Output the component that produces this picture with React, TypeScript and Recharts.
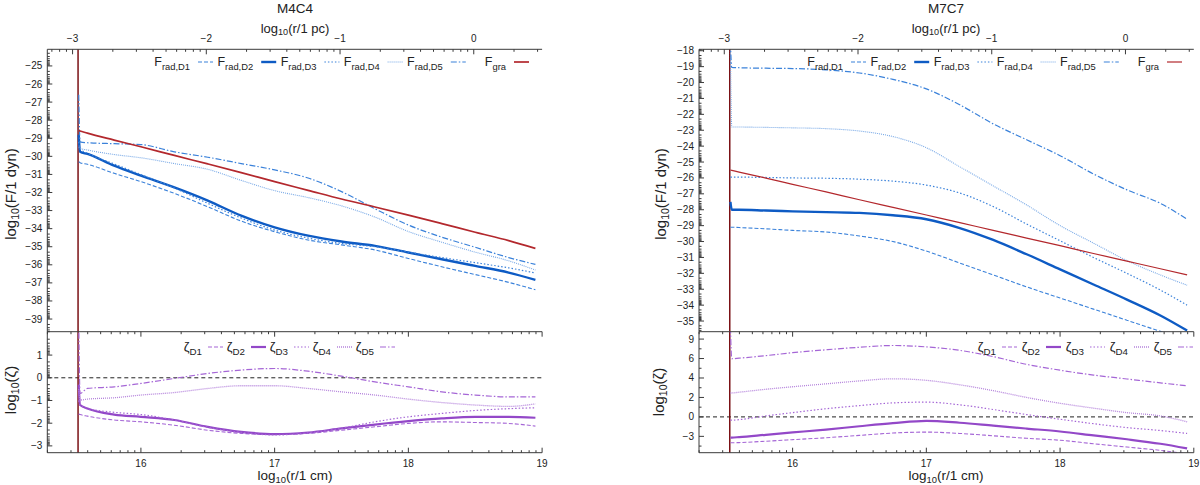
import { LineChart, Line, XAxis, YAxis, ReferenceLine, Legend } from 'recharts'

const FONT = '"Liberation Sans", Arial, sans-serif'
const INK = '#222'
const FRAME = '#3a3a3a'
const MINUS = '\u2212'

// radius grid, log10(r / 1 cm)
const R_CM = [15.535, 15.545, 15.6, 15.8, 16.0, 16.25, 16.5, 16.75, 17.0, 17.25, 17.5, 17.75, 18.0, 18.25, 18.5, 18.75, 18.95]
const R_IN = 15.53
const PC_OFFSET = 18.489

// M4C4, log10(F / 1 dyn)
const M4_FRAD_D1 = [-30.3, -30.35, -30.44, -30.94, -31.4, -32.05, -32.79, -33.58, -34.17, -34.63, -34.9, -35.18, -35.65, -36.11, -36.54, -36.97, -37.38]
const M4_FRAD_D2 = [-28.8, -29.75, -29.87, -30.52, -31.07, -31.72, -32.45, -33.28, -33.93, -34.39, -34.71, -34.95, -35.32, -35.69, -36.06, -36.43, -36.83]
const M4_FRAD_D3 = [-29.2, -29.6, -29.83, -30.42, -31.01, -31.75, -32.6, -33.41, -34.08, -34.52, -34.82, -35.0, -35.3, -35.6, -35.88, -36.17, -36.45]
const M4_FRAD_D4 = [-29.5, -29.56, -29.65, -29.9, -30.08, -30.4, -30.72, -31.33, -31.9, -32.28, -32.74, -33.36, -34.16, -34.75, -35.3, -35.78, -36.29]
const M4_FRAD_D5 = [-26.6, -29.2, -29.25, -29.3, -29.35, -29.75, -30.05, -30.4, -30.75, -31.2, -31.95, -32.9, -33.8, -34.47, -35.03, -35.6, -35.98]
const M4_FGRA = [-28.58, -28.6, -28.72, -29.1, -29.47, -29.95, -30.42, -30.9, -31.4, -31.88, -32.36, -32.8, -33.25, -33.72, -34.2, -34.66, -35.09]

// M4C4, log10(zeta)
const M4_ZETA_D1 = [-1.6, -1.62, -1.69, -1.86, -1.94, -2.09, -2.31, -2.45, -2.5, -2.45, -2.31, -2.16, -2.01, -1.94, -1.97, -2.01, -2.13]
const M4_ZETA_D2 = [-0.3, -1.2, -1.35, -1.62, -1.72, -1.86, -2.16, -2.38, -2.48, -2.41, -2.23, -2.06, -1.91, -1.79, -1.72, -1.72, -1.76]
const M4_ZETA_D3 = [-1.0, -1.2, -1.35, -1.52, -1.62, -1.86, -2.18, -2.4, -2.52, -2.43, -2.22, -1.94, -1.72, -1.57, -1.44, -1.36, -1.32]
const M4_ZETA_D4 = [-0.5, -0.98, -0.94, -0.88, -0.76, -0.65, -0.47, -0.35, -0.35, -0.47, -0.62, -0.76, -0.94, -1.09, -1.2, -1.26, -1.15]
const M4_ZETA_D5 = [2.5, -0.69, -0.47, -0.4, -0.25, -0.03, 0.19, 0.34, 0.41, 0.29, 0.07, -0.18, -0.4, -0.62, -0.76, -0.84, -0.84]

// M7C7, log10(F / 1 dyn)
const M7_FRAD_D1 = [-29.1, -29.1, -29.12, -29.2, -29.3, -29.4, -29.65, -30.0, -30.6, -31.35, -32.1, -32.85, -33.55, -34.25, -34.95, -35.65, -36.2]
const M7_FRAD_D2 = [-27.5, -28.0, -28.0, -28.05, -28.1, -28.15, -28.2, -28.35, -28.6, -29.15, -29.9, -30.8, -31.75, -32.7, -33.65, -34.65, -35.6]
const M7_FRAD_D3 = [-25.95, -25.95, -25.95, -25.97, -26.0, -26.02, -26.08, -26.2, -26.45, -26.95, -27.8, -28.9, -29.95, -31.0, -32.0, -33.05, -34.0]
const M7_FRAD_D4 = [-18.0, -22.8, -22.8, -22.82, -22.85, -22.9, -23.05, -23.4, -24.1, -25.3, -26.5, -27.7, -29.0, -30.1, -31.2, -32.1, -32.75]
const M7_FRAD_D5 = [-17.5, -19.05, -19.07, -19.1, -19.12, -19.2, -19.4, -19.8, -20.4, -21.4, -22.6, -23.6, -24.6, -25.75, -26.75, -27.6, -28.6]
const M7_FGRA = [-25.5, -25.52, -25.63, -26.01, -26.4, -26.88, -27.37, -27.85, -28.33, -28.81, -29.3, -29.78, -30.26, -30.75, -31.23, -31.71, -32.1]

// M7C7, log10(zeta) in axis-tick units (tick i carries M7_Z_LABELS[i])
const M7_ZETA_D1 = [-1.33, -1.33, -1.32, -1.25, -1.17, -1.07, -0.95, -0.83, -0.78, -0.85, -0.97, -1.1, -1.2, -1.38, -1.55, -1.72, -1.9]
const M7_ZETA_D2 = [-1.06, -1.06, -1.04, -0.92, -0.8, -0.65, -0.48, -0.32, -0.2, -0.3, -0.45, -0.6, -0.75, -0.95, -1.15, -1.38, -1.62]
const M7_ZETA_D3 = [-0.17, -0.17, -0.14, 0.05, 0.22, 0.42, 0.58, 0.72, 0.76, 0.62, 0.38, 0.12, -0.12, -0.35, -0.55, -0.7, -0.85]
const M7_ZETA_D4 = [1.23, 1.23, 1.27, 1.42, 1.55, 1.7, 1.85, 1.96, 1.88, 1.65, 1.35, 1.0, 0.7, 0.45, 0.22, 0.05, -0.25]
const M7_ZETA_D5 = [4.6, 2.99, 3.02, 3.15, 3.3, 3.45, 3.58, 3.67, 3.6, 3.42, 3.1, 2.7, 2.4, 2.15, 1.95, 1.75, 1.6]

// ticks
const X_TICKS = [16, 17, 18, 19]
const PC_TICKS = [-3, -2, -1, 0]
const M4_F_TICKS = [-39, -38, -37, -36, -35, -34, -33, -32, -31, -30, -29, -28, -27, -26, -25]
const M4_Z_TICKS = [-3, -2, -1, 0, 1]
const M7_F_TICKS = [-35, -34, -33, -32, -31, -30, -29, -28, -27, -26, -25, -24, -23, -22, -21, -20, -19, -18]
const M7_Z_TICKS = [-1, 0, 1, 2, 3, 4]
const M7_Z_LABELS = ['\u22123', '0', '2', '4', '6', '9']
const M7_Z_MINOR = [-1.5, -0.5, 0.5, 1.5, 2.5, 3.5]

const X_DOMAIN: [number, number] = [15.3, 19]
const M4_F_DOMAIN: [number, number] = [-39.7, -24.08]
const M4_Z_DOMAIN: [number, number] = [-3.3, 2.03]
const M7_F_DOMAIN: [number, number] = [-35.67, -17.91]
const M7_Z_DOMAIN: [number, number] = [-1.84, 4.38]

// page geometry
const PLOT_TOP = 49.3
const DIV_Y = 331.7
const PLOT_BOT = 452.7
const PLOT_W = 494.8
const LOWER_TOP = 300
const LOWER_H = 185

const BLUE = '#0e5bc4'
const BLUE_MID = '#3b82da'
const BLUE_LIGHT = '#77a8e6'
const RED = '#b3282d'
const RED_DARK = '#7a1014'
const PURPLE = '#9348c8'
const PURPLE_MID = '#a566d6'
const PURPLE_LIGHT = '#b584dc'

interface Style { key: string; name: string; color: string; width: number; dash?: string }

const F_STYLES: Style[] = [
  { key: 'd1', name: 'F_rad,D1', color: BLUE_MID, width: 1.1, dash: '4 2' },
  { key: 'd2', name: 'F_rad,D2', color: BLUE, width: 2.4 },
  { key: 'd3', name: 'F_rad,D3', color: BLUE_MID, width: 1.2, dash: '1.5 2' },
  { key: 'd4', name: 'F_rad,D4', color: BLUE_LIGHT, width: 1.1, dash: '1 1' },
  { key: 'd5', name: 'F_rad,D5', color: BLUE_MID, width: 1.2, dash: '6 2 1.5 2' },
]
const Z_STYLES: Style[] = [
  { key: 'd1', name: '\u03b6_D1', color: PURPLE_MID, width: 1.1, dash: '4 2' },
  { key: 'd2', name: '\u03b6_D2', color: PURPLE, width: 2.2 },
  { key: 'd3', name: '\u03b6_D3', color: PURPLE_MID, width: 1.2, dash: '1.5 2' },
  { key: 'd4', name: '\u03b6_D4', color: PURPLE_LIGHT, width: 1.3, dash: '1 1' },
  { key: 'd5', name: '\u03b6_D5', color: PURPLE_MID, width: 1.2, dash: '6 2 1.5 2' },
]

const fmt = (v: number) => (v < 0 ? MINUS + Math.abs(Math.round(v)) : String(Math.round(v)))
const LOG_K = [2, 3, 4, 5, 6, 7, 8, 9].map((k) => Math.log10(k))

function logMinors(majors: number[], dir: 1 | -1, [lo, hi]: [number, number], shift = 0) {
  const out = [...majors.map((m) => m + shift)]
  for (let n = Math.floor(lo - shift) - 1; n <= Math.ceil(hi - shift) + 1; n++) {
    for (const l of LOG_K) {
      const v = n + dir * l + shift
      if (v > lo && v < hi) out.push(v)
    }
  }
  return out.filter((v) => v >= lo - 1e-9 && v <= hi + 1e-9)
}

function rows(series: Record<string, number[]>) {
  return R_CM.map((r, i) => {
    const row: Record<string, number> = { r }
    for (const k of Object.keys(series)) row[k] = series[k][i]
    return row
  })
}

type Side = 'top' | 'bottom' | 'left' | 'right'

function makeTick(side: Side, majors: number[], labelOf?: (v: number) => string) {
  return function TickMark(props: any) {
    const x = Number(props.x)
    const y = Number(props.y)
    const v = Number(props.payload?.value)
    const major = majors.some((m) => Math.abs(m - v) < 1e-6)
    const len = major ? 5 : 2.5
    const label = major && labelOf ? labelOf(v) : null
    let x2 = x
    let y2 = y
    let tx = x
    let ty = y
    let anchor: 'middle' | 'end' = 'middle'
    if (side === 'bottom') { y2 = y - len; ty = y + 10.5 }
    if (side === 'top') { y2 = y + len; ty = y - 11 }
    if (side === 'left') { x2 = x + len; tx = x - 5; anchor = 'end' }
    if (side === 'right') { x2 = x - len }
    return (
      <g>
        <line x1={x} y1={y} x2={x2} y2={y2} stroke={FRAME} strokeWidth={1} />
        {label !== null && (
          <text x={tx} y={ty} textAnchor={anchor} dominantBaseline="central" fontSize={10} fontFamily={FONT} fill={INK}>
            {label}
          </text>
        )}
      </g>
    )
  }
}

// gnuplot-style key: right-aligned title followed by its line sample
function makeKey(order: string[], x0: number, step: number, gap: number, big: number) {
  return function Key(props: any) {
    const items = ((props.payload ?? []) as any[])
      .filter((it) => it.color !== 'none' && it.type !== 'none' && order.includes(String(it.value)))
      .sort((a, b) => order.indexOf(String(a.value)) - order.indexOf(String(b.value)))
    return (
      <svg width={600} height={24} style={{ overflow: 'visible' }}>
        {items.map((it, i) => {
          const t = x0 + step * i
          const [base, sub] = String(it.value).split('_')
          const p = it.payload ?? {}
          return (
            <g key={i}>
              <text x={t} y={15} textAnchor="end" fontSize={big} fontFamily={FONT} fill={INK}>
                {base}
                <tspan dy={3.5} fontSize={big * 0.75}>{sub}</tspan>
              </text>
              <line x1={t + gap} x2={t + gap + 15} y1={11} y2={11} stroke={it.color} strokeWidth={p.strokeWidth ?? 1} strokeDasharray={p.strokeDasharray} />
            </g>
          )
        })}
      </svg>
    )
  }
}

const PC_POS = PC_TICKS.map((p) => p + PC_OFFSET)
const PC_ALL = logMinors(PC_TICKS, 1, X_DOMAIN, PC_OFFSET)
const X_ALL = logMinors(X_TICKS, 1, X_DOMAIN)
const pcLabel = (v: number) => fmt(v - PC_OFFSET)

function UpperPanel(props: {
  left: number
  plotLeft: number
  series: Record<string, number[]>
  gra: Style
  yDomain: [number, number]
  yMajor: number[]
  keyX0: number
}) {
  const { left, plotLeft, series, gra, yDomain, yMajor, keyX0 } = props
  const W = 600
  const H = 340
  const data = rows(series)
  const yTicks = logMinors(yMajor, -1, yDomain)
  const styles = [...F_STYLES, gra]
  return (
    <div style={{ position: 'absolute', left, top: 0 }}>
      <LineChart width={W} height={H} data={data} margin={{ top: 0, left: 0, right: W - plotLeft - PLOT_W, bottom: H - DIV_Y }}>
        <XAxis xAxisId="pc" orientation="top" dataKey="r" type="number" domain={X_DOMAIN} allowDataOverflow ticks={PC_ALL} interval={0}
          height={PLOT_TOP} tickLine={false} tickSize={0} tickMargin={0} axisLine={{ stroke: FRAME }} tick={makeTick('top', PC_POS, pcLabel)} />
        <YAxis yAxisId="l" orientation="left" type="number" domain={yDomain} allowDataOverflow ticks={yTicks} interval={0}
          width={plotLeft} tickLine={false} tickSize={0} tickMargin={0} axisLine={{ stroke: FRAME }} tick={makeTick('left', yMajor, fmt)} />
        <YAxis yAxisId="r" orientation="right" type="number" domain={yDomain} allowDataOverflow ticks={yTicks} interval={0}
          width={0} tickLine={false} tickSize={0} tickMargin={0} axisLine={{ stroke: FRAME }} tick={makeTick('right', yMajor)} />
        <ReferenceLine xAxisId="pc" yAxisId="l" x={R_IN} stroke={RED_DARK} strokeWidth={1.5} />
        {styles.map((s) => (
          <Line key={s.key} xAxisId="pc" yAxisId="l" type="monotone" dataKey={s.key} name={s.name} stroke={s.color}
            strokeWidth={s.width} strokeDasharray={s.dash} dot={false} activeDot={false} isAnimationActive={false} />
        ))}
        <Line xAxisId="pc" yAxisId="r" dataKey="gra" stroke="none" legendType="none" dot={false} activeDot={false} isAnimationActive={false} />
        <Legend layout="horizontal" align="center" verticalAlign="middle"
          wrapperStyle={{ left: 0, top: 51, width: W, height: 24 }}
          content={makeKey(styles.map((s) => s.name), keyX0, 63.2, 8, 12.5)} />
      </LineChart>
    </div>
  )
}

function LowerPanel(props: {
  left: number
  plotLeft: number
  series: Record<string, number[]>
  yDomain: [number, number]
  yMajor: number[]
  yTicks: number[]
  yLabel: (v: number) => string
  keyX0: number
  keyStep: number
}) {
  const { left, plotLeft, series, yDomain, yMajor, yTicks, yLabel, keyX0, keyStep } = props
  const W = 600
  const H = LOWER_H
  const data = rows(series)
  const top = DIV_Y - LOWER_TOP
  return (
    <div style={{ position: 'absolute', left, top: LOWER_TOP }}>
      <LineChart width={W} height={H} data={data} margin={{ top: 0, left: 0, right: W - plotLeft - PLOT_W, bottom: 0 }}>
        <XAxis xAxisId="b" orientation="bottom" dataKey="r" type="number" domain={X_DOMAIN} allowDataOverflow ticks={X_ALL} interval={0}
          height={H - (PLOT_BOT - LOWER_TOP)} tickLine={false} tickSize={0} tickMargin={0} axisLine={{ stroke: FRAME }} tick={makeTick('bottom', X_TICKS, fmt)} />
        <XAxis xAxisId="t" orientation="top" dataKey="r" type="number" domain={X_DOMAIN} allowDataOverflow ticks={X_ALL} interval={0}
          height={top} tickLine={false} tickSize={0} tickMargin={0} axisLine={{ stroke: FRAME }} tick={makeTick('top', X_TICKS)} />
        <YAxis yAxisId="l" orientation="left" type="number" domain={yDomain} allowDataOverflow ticks={yTicks} interval={0}
          width={plotLeft} tickLine={false} tickSize={0} tickMargin={0} axisLine={{ stroke: FRAME }} tick={makeTick('left', yMajor, yLabel)} />
        <YAxis yAxisId="r" orientation="right" type="number" domain={yDomain} allowDataOverflow ticks={yTicks} interval={0}
          width={0} tickLine={false} tickSize={0} tickMargin={0} axisLine={{ stroke: FRAME }} tick={makeTick('right', yMajor)} />
        <ReferenceLine xAxisId="b" yAxisId="l" y={0} stroke="#222" strokeWidth={1} strokeDasharray="4 3" />
        <ReferenceLine xAxisId="b" yAxisId="l" x={R_IN} stroke={RED_DARK} strokeWidth={1.5} />
        {Z_STYLES.map((s) => (
          <Line key={s.key} xAxisId="b" yAxisId="l" type="monotone" dataKey={s.key} name={s.name} stroke={s.color}
            strokeWidth={s.width} strokeDasharray={s.dash} dot={false} activeDot={false} isAnimationActive={false} />
        ))}
        <Line xAxisId="t" yAxisId="r" dataKey="d1" stroke="none" legendType="none" dot={false} activeDot={false} isAnimationActive={false} />
        <Legend layout="horizontal" align="center" verticalAlign="middle"
          wrapperStyle={{ left: 0, top: 36, width: W, height: 24 }}
          content={makeKey(Z_STYLES.map((s) => s.name), keyX0, keyStep, 6, 13)} />
      </LineChart>
    </div>
  )
}

function Txt({ x, y, size, rotate, children }: { x: number; y: number; size: number; rotate?: boolean; children: any }) {
  return (
    <div style={{
      position: 'absolute', left: x, top: y, fontSize: size, fontFamily: FONT, color: INK, whiteSpace: 'nowrap', lineHeight: 1,
      transform: `translate(-50%, -50%)${rotate ? ' rotate(-90deg)' : ''}`,
    }}>
      {children}
    </div>
  )
}

const Sub = ({ children }: { children: any }) => (
  <sub style={{ fontSize: '0.7em', verticalAlign: '-0.3em', lineHeight: 0 }}>{children}</sub>
)

const M4_GRA: Style = { key: 'gra', name: 'F_gra', color: RED, width: 1.7 }
const M7_GRA: Style = { key: 'gra', name: 'F_gra', color: RED, width: 1.2 }

export default function App() {
  return (
    <div style={{ position: 'absolute', left: 0, top: 0, width: 1200, height: 485, background: '#fff', overflow: 'hidden' }}>
      <UpperPanel left={0} plotLeft={47.3} gra={M4_GRA} yDomain={M4_F_DOMAIN} yMajor={M4_F_TICKS} keyX0={190}
        series={{ d1: M4_FRAD_D1, d2: M4_FRAD_D2, d3: M4_FRAD_D3, d4: M4_FRAD_D4, d5: M4_FRAD_D5, gra: M4_FGRA }} />
      <LowerPanel left={0} plotLeft={47.3} yDomain={M4_Z_DOMAIN} yMajor={M4_Z_TICKS} yTicks={logMinors(M4_Z_TICKS, -1, M4_Z_DOMAIN)}
        yLabel={fmt} keyX0={202} keyStep={43}
        series={{ d1: M4_ZETA_D1, d2: M4_ZETA_D2, d3: M4_ZETA_D3, d4: M4_ZETA_D4, d5: M4_ZETA_D5 }} />
      <UpperPanel left={600} plotLeft={99} gra={M7_GRA} yDomain={M7_F_DOMAIN} yMajor={M7_F_TICKS} keyX0={243}
        series={{ d1: M7_FRAD_D1, d2: M7_FRAD_D2, d3: M7_FRAD_D3, d4: M7_FRAD_D4, d5: M7_FRAD_D5, gra: M7_FGRA }} />
      <LowerPanel left={600} plotLeft={99} yDomain={M7_Z_DOMAIN} yMajor={M7_Z_TICKS} yTicks={[...M7_Z_TICKS, ...M7_Z_MINOR]}
        yLabel={(v) => M7_Z_LABELS[M7_Z_TICKS.indexOf(Math.round(v))] ?? ''} keyX0={396} keyStep={44}
        series={{ d1: M7_ZETA_D1, d2: M7_ZETA_D2, d3: M7_ZETA_D3, d4: M7_ZETA_D4, d5: M7_ZETA_D5 }} />

      <Txt x={295} y={9} size={13.5}>M4C4</Txt>
      <Txt x={295} y={28} size={13}>log<Sub>10</Sub>(r/1 pc)</Txt>
      <Txt x={295} y={476} size={13.5}>log<Sub>10</Sub>(r/1 cm)</Txt>
      <Txt x={10} y={194} size={15} rotate>log<Sub>10</Sub>(F/1 dyn)</Txt>
      <Txt x={10} y={390} size={15} rotate>log<Sub>10</Sub>(ζ)</Txt>

      <Txt x={946} y={9} size={13.5}>M7C7</Txt>
      <Txt x={946} y={28} size={13}>log<Sub>10</Sub>(r/1 pc)</Txt>
      <Txt x={946} y={476} size={13.5}>log<Sub>10</Sub>(r/1 cm)</Txt>
      <Txt x={660} y={194} size={15} rotate>log<Sub>10</Sub>(F/1 dyn)</Txt>
      <Txt x={658} y={392} size={15} rotate>log<Sub>10</Sub>(ζ)</Txt>
    </div>
  )
}
